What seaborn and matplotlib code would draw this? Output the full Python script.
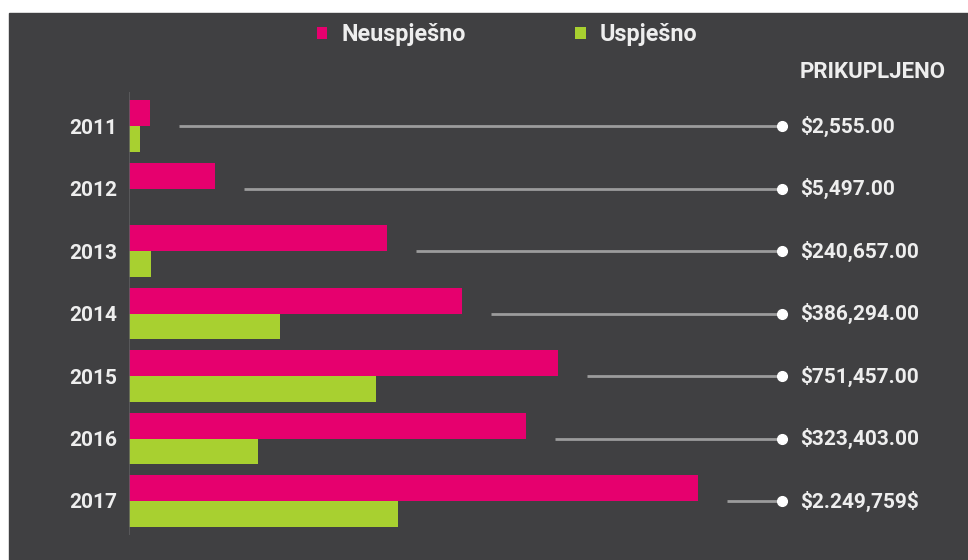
import matplotlib
matplotlib.use("Agg")
import matplotlib.pyplot as plt
import matplotlib.patches as mpatches
import pandas as pd
import seaborn as sns

# data (bar lengths in arbitrary units)
years = ["2011", "2012", "2013", "2014", "2015", "2016", "2017"]
neuspjesno = [21, 86, 258, 333, 429, 397, 569]
uspjesno = [11, 0, 22, 151, 247, 129, 269]
prikupljeno = ["\\$2,555.00", "\\$5,497.00", "\\$240,657.00", "\\$386,294.00",
               "\\$751,457.00", "\\$323,403.00", "\\$2.249,759\\$"]

BG = "#404042"
PINK = "#e6006e"
GREEN = "#a8d030"
TXT = "#eeeeee"

df = pd.DataFrame({
    "year": years * 2,
    "value": neuspjesno + uspjesno,
    "status": ["Neuspješno"] * len(years) + ["Uspješno"] * len(years),
})

sns.set_style("dark")
plt.rcParams["font.family"] = ["Roboto", "DejaVu Sans"]

W, H = 968, 560
fig = plt.figure(figsize=(W / 100, H / 100), dpi=100, facecolor="white")
# dark panel
fig.patches.append(mpatches.Rectangle((9 / W, 0), 1 - 9 / W, 1 - 13 / H,
                                      transform=fig.transFigure, color=BG, zorder=-5))

ax = fig.add_axes([129 / W, 0, 1 - 129 / W, 1 - 13 / H])
ax.set_facecolor("none")

sns.barplot(data=df, y="year", x="value", hue="status", orient="h",
            palette=[PINK, GREEN], width=0.83, saturation=1, linewidth=0, ax=ax)

ax.set_xlim(0, W - 129)
top = -(126 - 13) / 62.5
bottom = 6 + (H - 501) / 62.5
ax.set_ylim(bottom, top)

for s in ax.spines.values():
    s.set_visible(False)
ax.vlines(-0.5, -0.55, 6.55, color="#5e5e60", lw=1.2, zorder=1)

ax.set_xticks([])
ax.set_xlabel("")
ax.set_ylabel("")
ax.tick_params(axis="y", left=False, pad=5)
for lab in ax.get_yticklabels():
    lab.set_color(TXT)
    lab.set_fontsize(15)
    lab.set_fontweight("bold")
ax.grid(False)

# connector lines with values
line_end = 782 - 129
for i, (p, txt) in enumerate(zip(neuspjesno, prikupljeno)):
    ax.plot([p + 29, line_end], [i, i], color="#9c9c9c", lw=2, solid_capstyle="butt", zorder=2)
    ax.plot([line_end], [i], "o", color="white", ms=7, zorder=3)
    ax.text(800 - 129, i, txt, color=TXT, fontsize=15, fontweight="bold",
            va="center", ha="left")

ax.text(800 - 129, top + (72 - 13) / 62.5, "PRIKUPLJENO", color=TXT, fontsize=16,
        fontweight="bold", va="center", ha="left")

sns.move_legend(ax, "center", bbox_to_anchor=(0.524, 1 - 35 / H),
                bbox_transform=fig.transFigure, ncol=2, frameon=False, title=None,
                handlelength=0.45, handleheight=0.45, handletextpad=0.6,
                columnspacing=4.7, fontsize=16.8)
leg = ax.get_legend()
for t in leg.get_texts():
    t.set_color(TXT)
    t.set_fontweight("bold")
for h in leg.legend_handles:
    h.set_edgecolor("none")

fig.savefig("out.png", dpi=100, facecolor="white")
